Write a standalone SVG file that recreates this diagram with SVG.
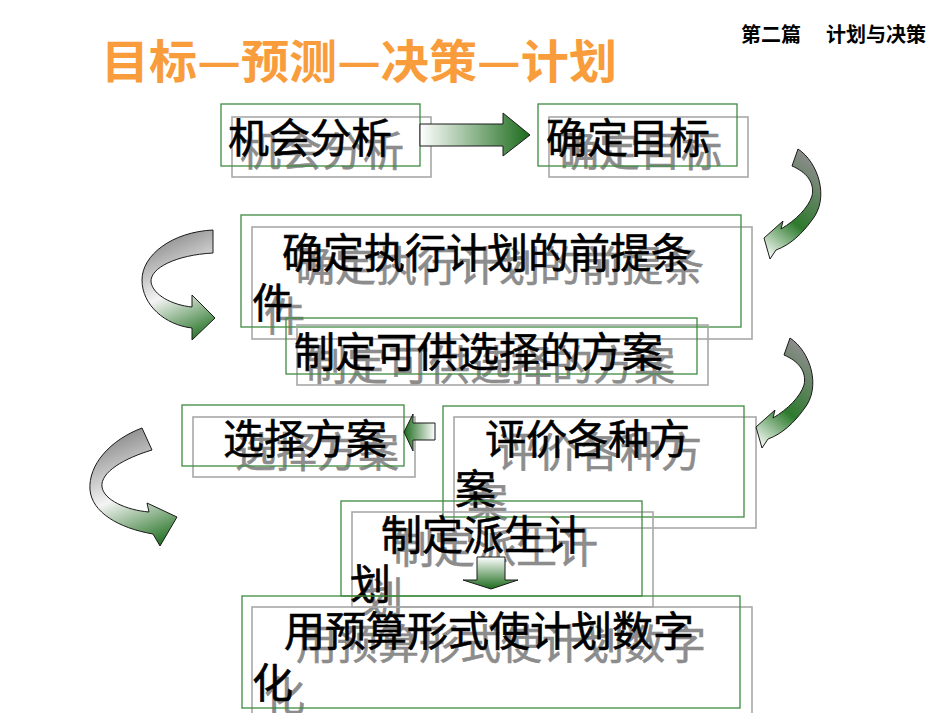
<svg xmlns="http://www.w3.org/2000/svg" width="950" height="713" viewBox="0 0 950 713">
<defs>
<style>
.t{font-family:"Noto Sans CJK SC","Liberation Sans",sans-serif;font-size:41px;fill:#000;stroke:#000;stroke-width:0.6}
.s{font-family:"Noto Sans CJK SC","Liberation Sans",sans-serif;font-size:41px;fill:#8c8c8c;stroke:#8c8c8c;stroke-width:0.6}
.g{fill:none;stroke:#3f8a3f;stroke-width:1.3}
.h{fill:none;stroke:#a8a8a8;stroke-width:1.6}
.ar{stroke:#1a1a1a;stroke-width:1}
</style>
<linearGradient id="gR" x1="0" y1="0" x2="1" y2="0"><stop offset="0" stop-color="#ffffff"/><stop offset="1" stop-color="#1c6b1c"/></linearGradient>
<linearGradient id="gL" x1="1" y1="0" x2="0" y2="0"><stop offset="0" stop-color="#ffffff"/><stop offset="1" stop-color="#1c6b1c"/></linearGradient>
<linearGradient id="gD" x1="0" y1="0" x2="0" y2="1"><stop offset="0" stop-color="#ffffff"/><stop offset="1" stop-color="#1c6b1c"/></linearGradient>
<linearGradient id="gCR" x1="0.6" y1="0" x2="0.2" y2="1"><stop offset="0" stop-color="#8c8c8c"/><stop offset="0.6" stop-color="#2d7a2d"/><stop offset="1" stop-color="#eaf4ea"/></linearGradient>
<linearGradient id="gCL" x1="0.5" y1="0" x2="0.8" y2="1"><stop offset="0" stop-color="#8e8e8e"/><stop offset="0.5" stop-color="#f4f4f4"/><stop offset="1" stop-color="#1f6f1f"/></linearGradient>
</defs>
<rect width="950" height="713" fill="#fff"/>
<g id="title">
<text x="101" y="78" font-family="Noto Sans CJK SC,sans-serif" font-weight="bold" font-size="46" fill="#f89c3c" textLength="516" lengthAdjust="spacingAndGlyphs">目标—预测—决策—计划</text>
</g>
<g id="header">
<text font-family="Noto Sans CJK SC,sans-serif" font-weight="bold" font-size="20" fill="#000" y="42"><tspan x="741">第二篇</tspan><tspan x="826">计划与决策</tspan></text>
</g>
<g id="n1">
<rect class="h" x="232" y="117" width="199" height="60"/>
<text class="s" x="240" y="166">机会分析</text>
<rect class="g" x="221" y="104" width="199" height="62"/>
<text class="t" x="228" y="153">机会分析</text>
</g>
<g id="n2">
<rect class="h" x="549" y="117" width="199" height="60"/>
<text class="s" x="558" y="166">确定目标</text>
<rect class="g" x="538" y="104" width="199" height="62"/>
<text class="t" x="546" y="153">确定目标</text>
</g>
<g id="n3">
<rect class="h" x="252" y="227" width="500" height="112"/>
<text class="s" x="294" y="281">确定执行计划的前提条</text>
<text class="s" x="264" y="331">件</text>
<rect class="g" x="241" y="215" width="500" height="112"/>
<text class="t" x="282" y="268">确定执行计划的前提条</text>
<text class="t" x="252" y="318">件</text>
</g>
<g id="n4">
<rect class="h" x="297" y="325" width="411" height="60"/>
<text class="s" x="306" y="380">制定可供选择的方案</text>
<rect class="g" x="286" y="318" width="411" height="56"/>
<text class="t" x="294" y="367">制定可供选择的方案</text>
</g>
<g id="n5">
<rect class="h" x="454" y="417" width="302" height="111"/>
<text class="s" x="497" y="467">评价各种方</text>
<text class="s" x="467" y="517">案</text>
<rect class="g" x="443" y="406" width="301" height="111"/>
<text class="t" x="485" y="454">评价各种方</text>
<text class="t" x="455" y="504">案</text>
</g>
<g id="n6">
<rect class="h" x="352" y="512" width="301" height="95"/>
<text class="s" x="393" y="563">制定派生计</text>
<text class="s" x="362" y="612">划</text>
<rect class="g" x="341" y="501" width="301" height="95"/>
<text class="t" x="381" y="550">制定派生计</text>
<text class="t" x="350" y="599">划</text>
</g>
<g id="n7">
<rect class="h" x="252" y="607" width="500" height="115"/>
<text class="s" x="296" y="659">用预算形式使计划数字</text>
<text class="s" x="264" y="711">化</text>
<rect class="g" x="242" y="596" width="498" height="112"/>
<text class="t" x="284" y="646">用预算形式使计划数字</text>
<text class="t" x="252" y="698">化</text>
</g>
<g id="n8">
<rect class="h" x="193" y="417" width="222" height="60"/>
<text class="s" x="235" y="467">选择方案</text>
<rect class="g" x="182" y="405" width="222" height="61"/>
<text class="t" x="223" y="454">选择方案</text>
</g>
<g id="connectors">
<path class="ar" fill="url(#gR)" d="M420,124 H503 V113 L530,135 L503,156 V146 H420 Z"/>
<path class="ar" fill="url(#gCR)" d="M798,149 C818,162 830,198 812,220 C802,234 790,245 776,250 L770,259 L764,238 L783,221 L781,229 C796,220 808,208 812,196 C815,182 806,172 792,166 Z"/>
<path class="ar" fill="url(#gCL)" d="M213,230 C172,232 142,255 142,280 C142,305 165,325 192,328 L192,340 L215,318 L192,295 L192,307 C172,305 153,295 151,282 C150,268 176,255 213,253 Z"/>
<path class="ar" fill="url(#gCR)" transform="translate(-8,189)" d="M798,149 C818,162 830,198 812,220 C802,234 790,245 776,250 L770,259 L764,238 L783,221 L781,229 C796,220 808,208 812,196 C815,182 806,172 792,166 Z"/>
<path class="ar" fill="url(#gL)" d="M435,423 H413 V414 L404,432 L413,451 V440 H435 Z"/>
<path class="ar" fill="url(#gCL)" d="M142,428 C110,440 88,465 90,490 C92,512 118,528 153,534 L160,546 L177,517 L147,503 L149,512 C126,510 104,500 102,487 C100,472 125,458 152,450 Z"/>
<path class="ar" fill="url(#gD)" d="M477,557 H505 V580 H518 L491,589 L463,580 H477 Z"/>
</g>
</svg>
